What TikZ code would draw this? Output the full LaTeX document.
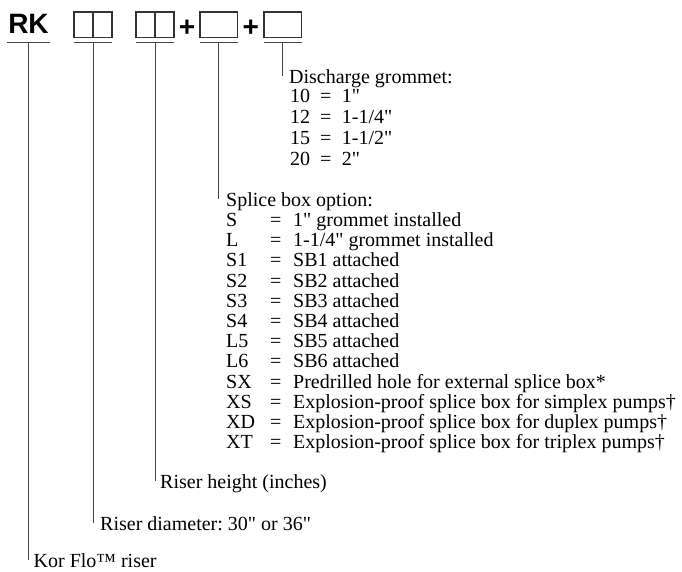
\documentclass[tikz,border=0pt]{standalone}
\usepackage{fontspec}
\setmainfont{Liberation Serif}[Ligatures=TeXOff]
\newfontfamily\codefont{Liberation Sans}
\usetikzlibrary{positioning}
\definecolor{LeadGray}{RGB}{70,70,70}
\frenchspacing
\newcommand{\drow}[2]{\makebox[30pt][l]{#1}\makebox[21.7pt][l]{=}#2}
\newcommand{\srow}[2]{\makebox[44pt][l]{#1}\makebox[23pt][l]{=}#2}

\begin{document}
\begin{tikzpicture}[x=1pt, y=-1pt,
    slot/.style={draw=black!80, line width=1.3pt, minimum width=19pt, minimum height=25.7pt, inner sep=0pt, outer sep=0pt},
    lead/.style={draw=LeadGray, line width=1pt},
    code/.style={font=\codefont\bfseries\fontsize{28}{28}\selectfont, inner sep=0pt},
    head/.style={font=\fontsize{20}{20}\selectfont, inner sep=0pt, anchor=base west, text height=15pt, text depth=0pt},
    list/.style={inner sep=0pt, anchor=base west}]
    \useasboundingbox (0,0) rectangle (682,571);

    % model code
    \node[code, anchor=base, minimum width=43pt] (rk) at (28.5,33.3) {RK};
    \node[slot] (dia1) at (83.5,24.85) {};
    \node[slot, right=0pt of dia1] (dia2) {};
    \node[slot] (hgt1) at (145.5,24.85) {};
    \node[slot, right=0pt of hgt1] (hgt2) {};
    \node[code] (plus1) at (187,28.3) {+};
    \node[slot, minimum width=37.7pt] (spl) at (218.85,24.85) {};
    \node[code] (plus2) at (250.8,28.3) {+};
    \node[slot, minimum width=37.7pt] (grm) at (282.85,24.85) {};

    % underlines
    \draw[lead] ([yshift=-9.4pt]rk.south west) -- ([yshift=-9.4pt]rk.south east);
    \draw[lead] ([yshift=-5pt]dia1.south west) -- ([yshift=-5pt]dia2.south east);
    \draw[lead] ([yshift=-5pt]hgt1.south west) -- ([yshift=-5pt]hgt2.south east);
    \draw[lead] ([yshift=-5pt]spl.south west) -- ([yshift=-5pt]spl.south east);
    \draw[lead] ([yshift=-5pt]grm.south west) -- ([yshift=-5pt]grm.south east);
    \coordinate (rkfoot) at ([yshift=-9.4pt]rk.south);
    \coordinate (diafoot) at ([yshift=-5pt]dia1.south east);
    \coordinate (hgtfoot) at ([yshift=-5pt]hgt1.south east);
    \coordinate (splfoot) at ([yshift=-5pt]spl.south);
    \coordinate (grmfoot) at ([yshift=-5pt]grm.south);

    % Discharge grommet
    \node[head] (grmhead) at (289,83.5) {Discharge grommet:};
    \node[list, font=\fontsize{20}{20.9}\selectfont] (grmlist) at (290,102.3) {%
        \begin{tabular}[t]{@{}l@{}}
        \drow{10}{1"}\\
        \drow{12}{1-1/4"}\\
        \drow{15}{1-1/2"}\\
        \drow{20}{2"}
        \end{tabular}};

    % Splice box option
    \node[head] (splhead) at (226,206) {Splice box option:};
    \node[list, font=\fontsize{20}{20.2}\selectfont] (spllist) at (226,226.5) {%
        \begin{tabular}[t]{@{}l@{}}
        \srow{S}{1" grommet installed}\\
        \srow{L}{1-1/4" grommet installed}\\
        \srow{S1}{SB1 attached}\\
        \srow{S2}{SB2 attached}\\
        \srow{S3}{SB3 attached}\\
        \srow{S4}{SB4 attached}\\
        \srow{L5}{SB5 attached}\\
        \srow{L6}{SB6 attached}\\
        \srow{SX}{Predrilled hole for external splice box*}\\
        \srow{XS}{Explosion-proof splice box for simplex pumps†}\\
        \srow{XD}{Explosion-proof splice box for duplex pumps†}\\
        \srow{XT}{Explosion-proof splice box for triplex pumps†}
        \end{tabular}};

    % riser
    \node[head] (hgthead) at (160,488.3) {Riser height (inches)};
    \node[head] (diahead) at (100,530) {Riser diameter: 30" or 36"};
    \node[head] (rkhead) at (33.5,567) {Kor Flo™ riser};

    % leaders
    \draw[lead] (grmfoot) -- (grmfoot |- grmhead.west);
    \draw[lead] (splfoot) -- (splfoot |- splhead.west);
    \draw[lead] (hgtfoot) -- (hgtfoot |- hgthead.west);
    \draw[lead] (diafoot) -- (diafoot |- diahead.west);
    \draw[lead] (rkfoot) -- (rkfoot |- rkhead.west);
\end{tikzpicture}
\end{document}
